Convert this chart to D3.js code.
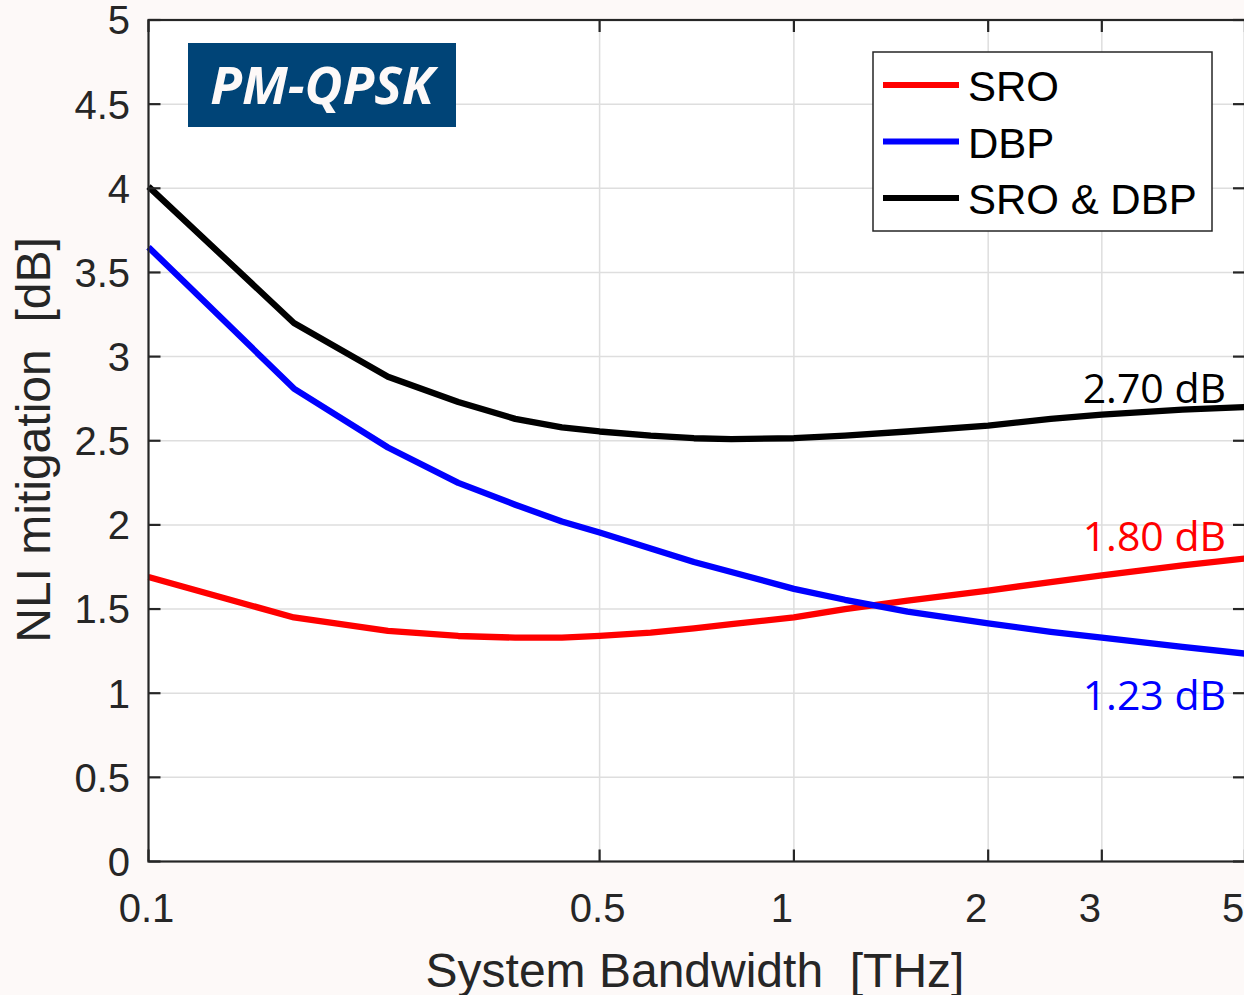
<!DOCTYPE html>
<html>
<head>
<meta charset="utf-8">
<script src="https://cdn.jsdelivr.net/npm/d3@7"></script>
<style>
  html, body { margin: 0; padding: 0; background: #fdf9f8; }
  svg { display: block; }
</style>
</head>
<body>
<div id="chart"></div>
<script>
// data
const bandwidth = [0.1, 0.168, 0.235, 0.302, 0.370, 0.437, 0.5, 0.6, 0.7, 0.8, 1.0, 1.2, 1.5, 2.0, 2.5, 3.0, 4.0, 5.0];
const sro    = [1.69, 1.45, 1.37, 1.34, 1.33, 1.33, 1.34, 1.36, 1.385, 1.41, 1.45, 1.50, 1.55, 1.61, 1.66, 1.70, 1.76, 1.80];
const dbp    = [3.65, 2.81, 2.46, 2.25, 2.12, 2.02, 1.955, 1.86, 1.78, 1.72, 1.62, 1.555, 1.485, 1.415, 1.365, 1.33, 1.275, 1.235];
const sroDbp = [4.01, 3.20, 2.88, 2.73, 2.63, 2.58, 2.555, 2.53, 2.515, 2.51, 2.515, 2.53, 2.555, 2.59, 2.63, 2.655, 2.685, 2.70];

const seriesNames = ["SRO", "DBP", "SRO & DBP"];
const seriesColors = ["#ff0000", "#0000ff", "#000000"];
const seriesValues = [sro, dbp, sroDbp];

const xTicks = [0.1, 0.5, 1, 2, 3, 5];
const xTickLabels = ["0.1", "0.5", "1", "2", "3", "5"];
const yTicks = [0, 0.5, 1, 1.5, 2, 2.5, 3, 3.5, 4, 4.5, 5];
const yTickLabels = ["0", "0.5", "1", "1.5", "2", "2.5", "3", "3.5", "4", "4.5", "5"];

const endLabels = ["1.80 dB", "1.23 dB", "2.70 dB"];
const endValues = [1.80, 1.23, 2.70];

function drawChart() {
    const width = 1244;
    const height = 995;
    const left = 148.5, right = 1245, top = 20, bottom = 861.5;
    const axisColor = "#262626";
    const gridColor = "#dedede";

    const svg = d3.select("#chart")
        .append("svg")
        .attr("width", width)
        .attr("height", height)
        .attr("viewBox", [0, 0, width, height]);

    const x = d3.scaleLog().domain([0.1, 5]).range([left, right]);
    const y = d3.scaleLinear().domain([0, 5]).range([bottom, top]);

    // plot area
    svg.append("rect")
        .attr("x", left).attr("y", top)
        .attr("width", right - left).attr("height", bottom - top)
        .attr("fill", "#ffffff");

    // grid
    const grid = svg.append("g").attr("stroke", gridColor).attr("stroke-width", 1.5);
    grid.selectAll("line.gx")
        .data(xTicks.slice(1, -1))
        .join("line")
        .attr("x1", d => x(d)).attr("x2", d => x(d))
        .attr("y1", top).attr("y2", bottom);
    grid.selectAll("line.gy")
        .data(yTicks.slice(1, -1))
        .join("line")
        .attr("x1", left).attr("x2", right)
        .attr("y1", d => y(d)).attr("y2", d => y(d));

    // lines
    svg.append("clipPath").attr("id", "plotclip")
        .append("rect")
        .attr("x", left - 4).attr("y", top)
        .attr("width", right - left + 4).attr("height", bottom - top);

    const line = d3.line()
        .x(d => x(d[0]))
        .y(d => y(d[1]));

    svg.append("g")
        .attr("clip-path", "url(#plotclip)")
        .selectAll("path")
        .data(seriesValues)
        .join("path")
        .attr("fill", "none")
        .attr("stroke", (d, i) => seriesColors[i])
        .attr("stroke-width", 6.3)
        .attr("stroke-linejoin", "round")
        .attr("d", d => line(d.map((v, i) => [bandwidth[i], v])));

    // axes (MATLAB-style box, inward ticks)
    const tickLen = 12;
    const axes = svg.append("g").attr("stroke", axisColor).attr("stroke-width", 2.2);
    axes.append("rect")
        .attr("x", left).attr("y", top)
        .attr("width", right - left).attr("height", bottom - top)
        .attr("fill", "none");
    axes.selectAll("line.tx")
        .data(xTicks)
        .join("line")
        .attr("x1", d => x(d)).attr("x2", d => x(d))
        .attr("y1", bottom).attr("y2", bottom - tickLen);
    axes.selectAll("line.ttx")
        .data(xTicks)
        .join("line")
        .attr("x1", d => x(d)).attr("x2", d => x(d))
        .attr("y1", top).attr("y2", top + tickLen);
    axes.selectAll("line.ty")
        .data(yTicks)
        .join("line")
        .attr("x1", left).attr("x2", left + tickLen)
        .attr("y1", d => y(d)).attr("y2", d => y(d));
    axes.selectAll("line.tty")
        .data(yTicks)
        .join("line")
        .attr("x1", right).attr("x2", right - tickLen)
        .attr("y1", d => y(d)).attr("y2", d => y(d));

    const font = "'Liberation Sans', Arial, Helvetica, sans-serif";

    // tick labels
    svg.append("g")
        .selectAll("text")
        .data(xTicks)
        .join("text")
        .attr("x", (d, i) => x(d) + (xTickLabels[i].length === 1 ? -12 : -2))
        .attr("y", 922)
        .attr("text-anchor", "middle")
        .attr("font-family", font)
        .attr("font-size", 40)
        .attr("fill", axisColor)
        .text((d, i) => xTickLabels[i]);

    svg.append("g")
        .selectAll("text")
        .data(yTicks)
        .join("text")
        .attr("x", 130)
        .attr("y", d => y(d))
        .attr("dy", "0.36em")
        .attr("text-anchor", "end")
        .attr("font-family", font)
        .attr("font-size", 40)
        .attr("fill", axisColor)
        .text((d, i) => yTickLabels[i]);

    // axis titles
    svg.append("text")
        .attr("x", 695).attr("y", 987)
        .attr("text-anchor", "middle")
        .attr("font-family", font)
        .attr("font-size", 48)
        .attr("fill", axisColor)
        .attr("xml:space", "preserve")
        .text("System Bandwidth  [THz]");

    svg.append("text")
        .attr("transform", "translate(50,440) rotate(-90)")
        .attr("text-anchor", "middle")
        .attr("font-family", font)
        .attr("font-size", 48)
        .attr("fill", axisColor)
        .attr("xml:space", "preserve")
        .text("NLI mitigation  [dB]");

    // PM-QPSK badge
    svg.append("rect")
        .attr("x", 188).attr("y", 43)
        .attr("width", 268).attr("height", 84)
        .attr("fill", "#004477");
    svg.append("text")
        .attr("x", 322).attr("y", 104)
        .attr("text-anchor", "middle")
        .attr("font-family", "'Open Sans', sans-serif")
        .attr("font-weight", "bold")
        .attr("font-style", "italic")
        .attr("font-size", 52)
        .attr("fill", "#fdf9f8")
        .text("PM-QPSK");

    // end-value labels
    const labelShift = [-8, 56, -4];
    svg.append("g")
        .selectAll("text")
        .data(endValues)
        .join("text")
        .attr("x", 1226)
        .attr("y", (d, i) => y(d) + labelShift[i])
        .attr("text-anchor", "end")
        .attr("font-family", "'Open Sans', sans-serif")
        .attr("font-size", 41)
        .attr("fill", (d, i) => seriesColors[i])
        .text((d, i) => endLabels[i]);

    // legend
    const legend = svg.append("g");
    legend.append("rect")
        .attr("x", 873).attr("y", 52)
        .attr("width", 339).attr("height", 179)
        .attr("fill", "#ffffff")
        .attr("stroke", axisColor)
        .attr("stroke-width", 1.5);
    const rowY = d3.scalePoint().domain(seriesNames).range([85, 198]);
    legend.selectAll("line")
        .data(seriesNames)
        .join("line")
        .attr("x1", 883).attr("x2", 959)
        .attr("y1", d => rowY(d)).attr("y2", d => rowY(d))
        .attr("stroke", (d, i) => seriesColors[i])
        .attr("stroke-width", 6);
    legend.selectAll("text")
        .data(seriesNames)
        .join("text")
        .attr("x", 968)
        .attr("y", d => rowY(d) + 16)
        .attr("font-family", font)
        .attr("font-size", 42)
        .attr("fill", "#000000")
        .text(d => d);
}

document.addEventListener('DOMContentLoaded', () => {
    drawChart();
});
</script>
</body>
</html>
